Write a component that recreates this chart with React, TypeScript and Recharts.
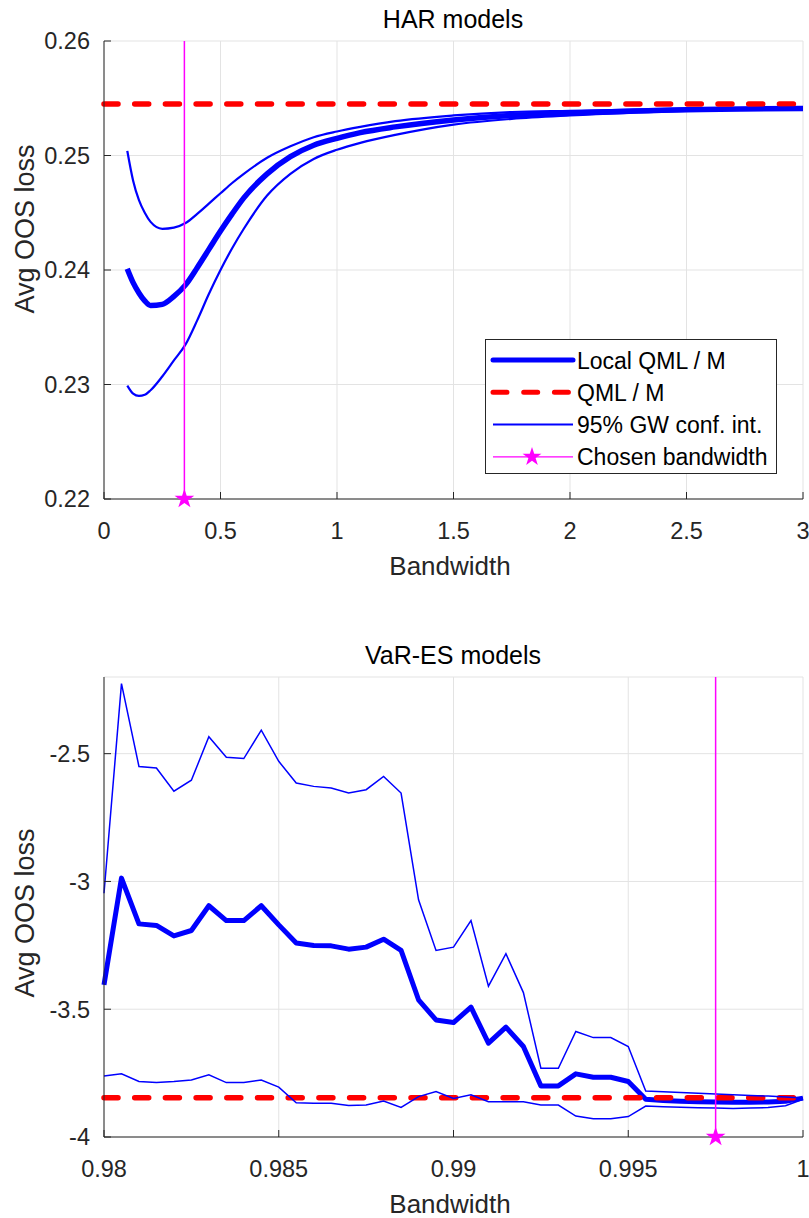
import React from 'react'
import {
  ComposedChart,
  Line,
  XAxis,
  YAxis,
  ZAxis,
  CartesianGrid,
  ReferenceLine,
  Scatter,
  Symbols,
} from 'recharts'

// HAR models (top panel)
const harBandwidth = [0.1, 0.125, 0.15, 0.175, 0.2, 0.25, 0.3, 0.35, 0.4, 0.45, 0.5, 0.55, 0.6, 0.7, 0.8, 0.9, 1.0, 1.1, 1.25, 1.5, 1.75, 2.0, 2.5, 3.0]
const harLocal = [0.2401, 0.2389, 0.238, 0.2373, 0.2369, 0.237, 0.2377, 0.2387, 0.2402, 0.2418, 0.2434, 0.2449, 0.2463, 0.2484, 0.2499, 0.2509, 0.2515, 0.252, 0.2525, 0.2531, 0.2535, 0.2537, 0.254, 0.2541]
const harUpper = [0.2504, 0.2478, 0.2461, 0.245, 0.2442, 0.2436, 0.2437, 0.2441, 0.2449, 0.2458, 0.2467, 0.2476, 0.2484, 0.2498, 0.2508, 0.2516, 0.2521, 0.2525, 0.253, 0.2535, 0.2538, 0.2539, 0.2541, 0.2542]
const harLower = [0.2299, 0.2292, 0.229, 0.2291, 0.2295, 0.2307, 0.2321, 0.2335, 0.2356, 0.2379, 0.24, 0.2419, 0.2436, 0.2465, 0.2484, 0.2497, 0.2505, 0.2511, 0.2518, 0.2527, 0.2532, 0.2535, 0.2539, 0.2541]
const harQml = 0.2545
const harChosen = 0.345
const harXTicks = [0, 0.5, 1, 1.5, 2, 2.5, 3]
const harYTicks = [0.22, 0.23, 0.24, 0.25, 0.26]

// VaR-ES models (bottom panel)
const varBandwidth = [
  0.98, 0.9805, 0.981, 0.9815, 0.982, 0.9825, 0.983, 0.9835, 0.984, 0.9845,
  0.985, 0.9855, 0.986, 0.9865, 0.987, 0.9875, 0.988, 0.9885, 0.989, 0.9895,
  0.99, 0.9905, 0.991, 0.9915, 0.992, 0.9925, 0.993, 0.9935, 0.994, 0.9945,
  0.995, 0.9955, 0.996, 0.9965, 0.997, 0.9975, 0.998, 0.9985, 0.999, 0.9995, 1.0,
]
const varLocal = [
  -3.405, -2.987, -3.166, -3.172, -3.213, -3.192, -3.095, -3.153, -3.153, -3.095,
  -3.17, -3.241, -3.251, -3.252, -3.265, -3.257, -3.226, -3.27, -3.463, -3.542,
  -3.552, -3.492, -3.633, -3.57, -3.646, -3.8, -3.8, -3.753, -3.766, -3.766,
  -3.783, -3.852, -3.857, -3.86, -3.862, -3.863, -3.864, -3.864, -3.863, -3.86, -3.848,
]
const varUpper = [
  -3.046, -2.226, -2.55, -2.556, -2.647, -2.604, -2.434, -2.514, -2.519, -2.408,
  -2.53, -2.615, -2.628, -2.634, -2.654, -2.641, -2.589, -2.654, -3.072, -3.27,
  -3.257, -3.153, -3.41, -3.283, -3.435, -3.731, -3.731, -3.587, -3.611, -3.611,
  -3.646, -3.82, -3.823, -3.826, -3.829, -3.832, -3.835, -3.838, -3.84, -3.843, -3.847,
]
const varLower = [
  -3.761, -3.753, -3.783, -3.787, -3.783, -3.777, -3.757, -3.787, -3.787, -3.777,
  -3.805, -3.866, -3.868, -3.868, -3.877, -3.875, -3.859, -3.884, -3.842, -3.822,
  -3.849, -3.835, -3.862, -3.862, -3.862, -3.875, -3.875, -3.918, -3.929, -3.929,
  -3.92, -3.879, -3.882, -3.884, -3.886, -3.887, -3.888, -3.887, -3.885, -3.878, -3.852,
]
const varQml = -3.846
const varChosen = 0.9975
const varXTicks = [0.98, 0.985, 0.99, 0.995, 1]
const varYTicks = [-4, -3.5, -3, -2.5]

const legendLabels = ['Local QML / M', 'QML / M', '95% GW conf. int.', 'Chosen bandwidth']

const FONT = '"Liberation Sans", Arial, Helvetica, sans-serif'
const AXIS = '#262626'
const GRID = '#e3e3e3'
const BLUE = '#0000ff'
const RED = '#ff0000'
const MAGENTA = '#ff00ff'
const DASH = '14 16.7'

const toPoints = (xs: number[], ys: number[]) => xs.map((x, i) => ({ x, y: ys[i] }))

interface PanelProps {
  height: number
  marginTop: number
  xAxisHeight: number
  title: string
  titleY: number
  xLabelY: number
  yLabelY: number
  bandwidth: number[]
  local: number[]
  upper: number[]
  lower: number[]
  qml: number
  chosen: number
  xDomain: [number, number]
  yDomain: [number, number]
  xTicks: number[]
  yTicks: number[]
  yFormat: (v: number) => string
  thick: number
  thin: number
  curve: 'monotone' | 'linear'
  legend?: boolean
}

const tickStyle = { fontSize: 23.5, fill: AXIS, fontFamily: FONT }

const Legend = () => (
  <div
    style={{
      position: 'absolute',
      left: 485,
      top: 339,
      width: 292,
      height: 135,
      boxSizing: 'border-box',
      border: `1px solid ${AXIS}`,
      background: '#fff',
    }}
  >
    <svg width={290} height={133} style={{ display: 'block' }}>
      {legendLabels.map((label, i) => {
        const cy = 20 + i * 32.3
        return (
          <g key={label}>
            {i === 0 && <line x1={7} x2={87} y1={cy} y2={cy} stroke={BLUE} strokeWidth={5} strokeLinecap="round" />}
            {i === 1 && (
              <line x1={7} x2={87} y1={cy} y2={cy} stroke={RED} strokeWidth={5} strokeDasharray={DASH} strokeLinecap="round" />
            )}
            {i === 2 && <line x1={7} x2={87} y1={cy} y2={cy} stroke={BLUE} strokeWidth={2} />}
            {i === 3 && (
              <>
                <line x1={7} x2={87} y1={cy} y2={cy} stroke={MAGENTA} strokeWidth={1.2} />
                <Symbols type="star" size={110} cx={46} cy={cy} fill={MAGENTA} />
              </>
            )}
            <text x={91} y={cy + 8.5} fontSize={23} fontFamily={FONT} fill="#000">
              {label}
            </text>
          </g>
        )
      })}
    </svg>
  </div>
)

const Panel = (p: PanelProps) => {
  const local = toPoints(p.bandwidth, p.local)
  const upper = toPoints(p.bandwidth, p.upper)
  const lower = toPoints(p.bandwidth, p.lower)
  const qml = [
    { x: p.xDomain[0], y: p.qml },
    { x: p.xDomain[1], y: p.qml },
  ]
  const star = [{ x: p.chosen, y: p.yDomain[0] }]

  return (
    <div style={{ position: 'relative', width: 809, height: p.height }}>
      <ComposedChart
        width={809}
        height={p.height}
        margin={{ top: p.marginTop, right: 6, left: 0, bottom: 0 }}
      >
        <CartesianGrid stroke={GRID} strokeWidth={1} />
        <XAxis
          dataKey="x"
          type="number"
          domain={p.xDomain}
          ticks={p.xTicks}
          tickFormatter={(v: number) => String(v)}
          height={p.xAxisHeight}
          stroke={AXIS}
          tick={tickStyle}
          tickSize={-7}
          tickMargin={30}
          interval={0}
        />
        <XAxis
          xAxisId="t"
          orientation="top"
          type="number"
          domain={p.xDomain}
          ticks={p.xTicks}
          height={0}
          stroke={AXIS}
          tick={false}
          tickSize={-7}
        />
        <YAxis
          dataKey="y"
          type="number"
          domain={p.yDomain}
          ticks={p.yTicks}
          tickFormatter={p.yFormat}
          width={104}
          stroke={AXIS}
          tick={tickStyle}
          tickSize={-7}
          tickMargin={21}
          interval={0}
        />
        <YAxis
          yAxisId="r"
          orientation="right"
          type="number"
          domain={p.yDomain}
          ticks={p.yTicks}
          width={0}
          stroke={AXIS}
          tick={false}
          tickSize={-7}
        />
        <ZAxis range={[120, 120]} />
        <Line
          data={local}
          dataKey="y"
          type={p.curve}
          stroke={BLUE}
          strokeWidth={p.thick}
          strokeLinejoin="round"
          dot={false}
          isAnimationActive={false}
        />
        <Line
          data={qml}
          dataKey="y"
          type="linear"
          stroke={RED}
          strokeWidth={5.5}
          strokeDasharray={DASH}
          strokeLinecap="round"
          dot={false}
          isAnimationActive={false}
        />
        <Line
          data={upper}
          dataKey="y"
          type={p.curve}
          stroke={BLUE}
          strokeWidth={p.thin}
          dot={false}
          isAnimationActive={false}
        />
        <Line
          data={lower}
          dataKey="y"
          type={p.curve}
          stroke={BLUE}
          strokeWidth={p.thin}
          dot={false}
          isAnimationActive={false}
        />
        <ReferenceLine x={p.chosen} stroke={MAGENTA} strokeWidth={1.5} />
        <Scatter data={star} shape="star" fill={MAGENTA} isAnimationActive={false} />
      </ComposedChart>

      <div
        style={{
          position: 'absolute',
          left: 453,
          top: p.titleY,
          transform: 'translate(-50%, -50%)',
          fontSize: 25,
          lineHeight: 1,
          whiteSpace: 'nowrap',
          color: '#000',
        }}
      >
        {p.title}
      </div>
      <div
        style={{
          position: 'absolute',
          left: 450,
          top: p.xLabelY,
          transform: 'translate(-50%, -50%)',
          fontSize: 26,
          lineHeight: 1,
          whiteSpace: 'nowrap',
          color: AXIS,
        }}
      >
        Bandwidth
      </div>
      <div
        style={{
          position: 'absolute',
          left: 25,
          top: p.yLabelY,
          transform: 'translate(-50%, -50%) rotate(-90deg)',
          fontSize: 27,
          lineHeight: 1,
          whiteSpace: 'nowrap',
          color: AXIS,
        }}
      >
        Avg OOS loss
      </div>
      {p.legend && <Legend />}
    </div>
  )
}

export default function App() {
  return (
    <div
      style={{
        position: 'absolute',
        left: 0,
        top: 0,
        width: 809,
        height: 1218,
        background: '#fff',
        fontFamily: FONT,
      }}
    >
      <Panel
        height={600}
        marginTop={41}
        xAxisHeight={101}
        title="HAR models"
        titleY={19}
        xLabelY={566}
        yLabelY={229}
        bandwidth={harBandwidth}
        local={harLocal}
        upper={harUpper}
        lower={harLower}
        qml={harQml}
        chosen={harChosen}
        xDomain={[0, 3]}
        yDomain={[0.22, 0.26]}
        xTicks={harXTicks}
        yTicks={harYTicks}
        yFormat={(v: number) => v.toFixed(2)}
        thick={5.5}
        thin={2.2}
        curve="monotone"
        legend
      />
      <Panel
        height={618}
        marginTop={77}
        xAxisHeight={81}
        title="VaR-ES models"
        titleY={55}
        xLabelY={604}
        yLabelY={313}
        bandwidth={varBandwidth}
        local={varLocal}
        upper={varUpper}
        lower={varLower}
        qml={varQml}
        chosen={varChosen}
        xDomain={[0.98, 1]}
        yDomain={[-4, -2.2]}
        xTicks={varXTicks}
        yTicks={varYTicks}
        yFormat={(v: number) => String(v)}
        thick={5}
        thin={1.5}
        curve="linear"
      />
    </div>
  )
}
